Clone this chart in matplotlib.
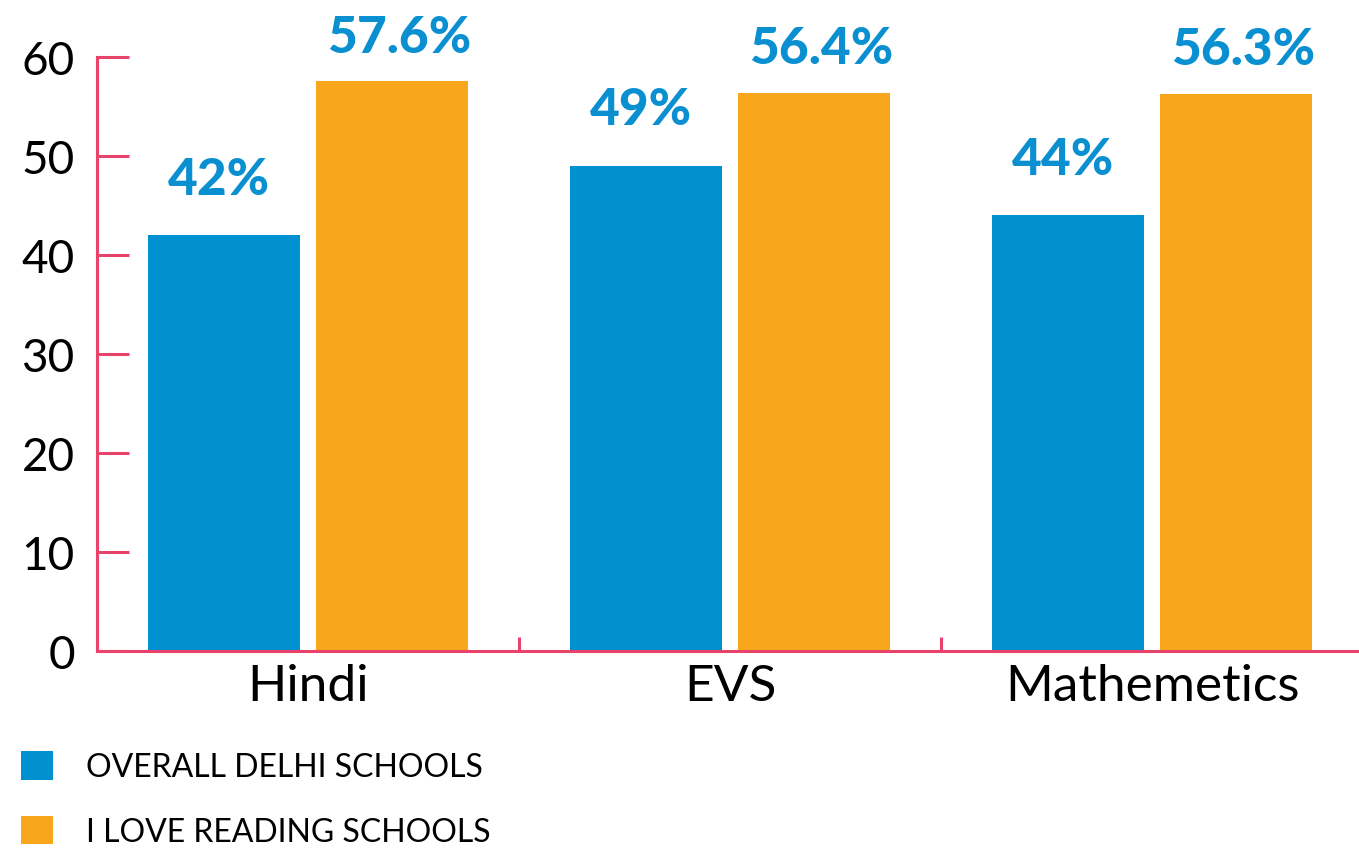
import matplotlib
matplotlib.use("Agg")
import matplotlib.pyplot as plt
import numpy as np

categories = ["Hindi", "EVS", "Mathemetics"]
overall = [42, 49, 44]
ilr = [57.6, 56.4, 56.3]
overall_labels = ["42%", "49%", "44%"]
ilr_labels = ["57.6%", "56.4%", "56.3%"]
series_names = ["OVERALL DELHI SCHOOLS", "I LOVE READING SCHOOLS"]
yticks = [0, 10, 20, 30, 40, 50, 60]

BLUE = "#0291d0"
ORANGE = "#f8a71d"
PINK = "#e8436a"
LABEL = "#0a90d0"

plt.rcParams["font.family"] = ["Lato", "DejaVu Sans"]

W, H = 1359, 854
fig = plt.figure(figsize=(W / 100, H / 100), dpi=100)
ax = fig.add_axes([97 / W, 1 - 652 / H, 1266 / W, (652 - 58) / H])

x = np.arange(len(categories))
b1 = ax.bar(x - 0.2, overall, width=0.36, color=BLUE, label=series_names[0], zorder=2)
b2 = ax.bar(x + 0.2, ilr, width=0.36, color=ORANGE, label=series_names[1], zorder=2)

for xi, v, t in zip(x, overall, overall_labels):
    ax.annotate(t, (xi - 0.2, v), xytext=(-3, 30), textcoords="offset points",
                ha="center", va="baseline", fontsize=37, fontweight="black", color=LABEL)
for xi, v, t in zip(x, ilr, ilr_labels):
    ax.annotate(t, (xi + 0.2, v), xytext=(5, 21), textcoords="offset points",
                ha="center", va="baseline", fontsize=37, fontweight="black", color=LABEL)

ax.set_xlim(-0.5, len(categories) - 0.5)
ax.set_ylim(0, 60)
ax.set_yticks(yticks)
ax.set_xticks(x)
ax.set_xticklabels(categories)
ax.set_xticks(np.arange(0.5, len(categories) - 0.5, 1.0), minor=True)

for s in ["top", "right"]:
    ax.spines[s].set_visible(False)
for s in ["left", "bottom"]:
    ax.spines[s].set_color(PINK)
    ax.spines[s].set_linewidth(2.2)
    ax.spines[s].set_zorder(3)

ax.tick_params(axis="y", direction="in", length=23, width=2.2, color=PINK,
               labelsize=33, pad=16, labelcolor="black")
ax.tick_params(axis="x", which="major", length=0, labelsize=37, pad=9, labelcolor="black")
ax.tick_params(axis="x", which="minor", direction="in", length=10, width=2.2, color=PINK)

leg = fig.legend(handles=[b1, b2], labels=series_names, loc="upper left",
                 bbox_to_anchor=(21 / W, 1 - 752 / H), frameon=False,
                 handlelength=1.0, handleheight=1.0,
                 handletextpad=1.05, labelspacing=1.05, borderpad=0, borderaxespad=0,
                 prop={"weight": "normal", "size": 23})

fig.savefig("out.png", dpi=100)
